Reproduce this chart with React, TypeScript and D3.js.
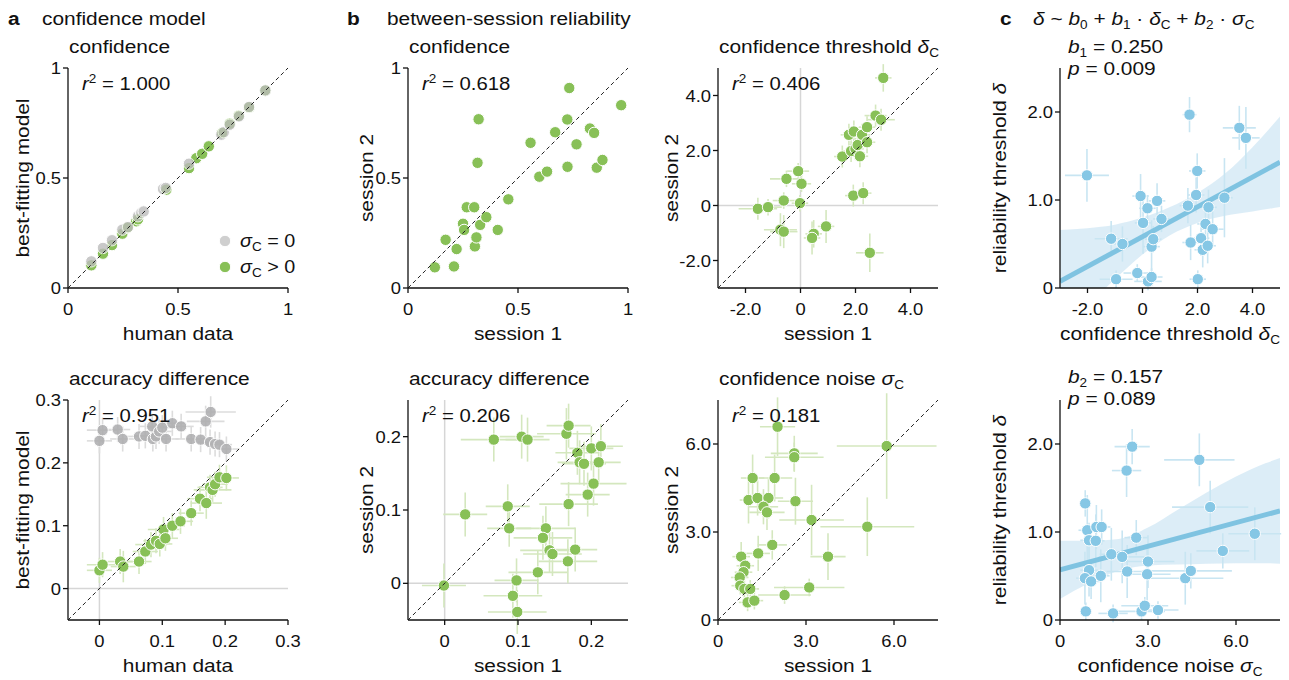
import React from 'react';
import * as d3 from 'd3';

const FONT = '"Liberation Sans", Arial, Helvetica, sans-serif';
const GREEN = '#88c057';
const GREEN_ERR = '#d4e7be';
const GRAY = '#bcbcbc';
const GRAY_ERR = '#dcdcdc';
const BLUE = '#86c7e5';
const BLUE_ERR = '#c8e5f2';
const BLUE_LINE = '#7fc3e1';
const BLUE_BAND = '#d6eaf6';
const REF = '#d6d6d6';
const INK = '#111';

type Pt = number[]; // [x, y, xErr, yErr]

// ---------- a: confidence model ----------
const aTopGreen: Pt[] = [
  [0.106, 0.103], [0.159, 0.156], [0.2, 0.195], [0.247, 0.247], [0.27, 0.274], [0.31, 0.303],
  [0.318, 0.312], [0.447, 0.447], [0.55, 0.545], [0.583, 0.59], [0.61, 0.61], [0.64, 0.644],
  [0.70, 0.705], [0.735, 0.747], [0.776, 0.783], [0.823, 0.821], [0.897, 0.898],
];
const aTopGray: Pt[] = [
  [0.106, 0.121], [0.159, 0.182], [0.2, 0.217], [0.247, 0.265], [0.273, 0.277], [0.318, 0.326],
  [0.333, 0.341], [0.344, 0.348], [0.432, 0.45], [0.444, 0.455], [0.55, 0.565], [0.697, 0.697],
  [0.708, 0.708], [0.735, 0.742], [0.777, 0.78], [0.823, 0.823], [0.897, 0.898],
];
const aBotGreen: Pt[] = [
  [0, 0.029, 0.02, 0.02], [0.005, 0.038, 0.025, 0.02], [0.033, 0.043, 0.02, 0.02], [0.038, 0.035, 0.02, 0.025],
  [0.063, 0.043, 0.02, 0.02], [0.073, 0.059, 0.02, 0.02], [0.082, 0.07, 0.025, 0.02], [0.09, 0.076, 0.02, 0.02],
  [0.096, 0.071, 0.02, 0.02], [0.102, 0.094, 0.025, 0.02], [0.105, 0.08, 0.02, 0.02], [0.116, 0.1, 0.02, 0.02],
  [0.129, 0.107, 0.02, 0.02], [0.146, 0.12, 0.02, 0.02], [0.16, 0.143, 0.02, 0.02], [0.17, 0.136, 0.025, 0.025],
  [0.176, 0.161, 0.02, 0.02], [0.18, 0.157, 0.03, 0.02], [0.184, 0.166, 0.02, 0.02], [0.191, 0.177, 0.02, 0.02],
  [0.202, 0.176, 0.02, 0.02],
];
const aBotGray: Pt[] = [
  [0, 0.235, 0.02, 0.02], [0.005, 0.252, 0.025, 0.02], [0.029, 0.253, 0.02, 0.02], [0.037, 0.238, 0.02, 0.02],
  [0.063, 0.242, 0.02, 0.02], [0.073, 0.243, 0.02, 0.02], [0.084, 0.258, 0.02, 0.02], [0.085, 0.238, 0.02, 0.02],
  [0.09, 0.242, 0.02, 0.02], [0.095, 0.25, 0.02, 0.02], [0.1, 0.256, 0.025, 0.02], [0.106, 0.238, 0.02, 0.02],
  [0.116, 0.263, 0.02, 0.02], [0.13, 0.258, 0.02, 0.02], [0.146, 0.238, 0.025, 0.02], [0.161, 0.237, 0.02, 0.02],
  [0.169, 0.266, 0.03, 0.025], [0.177, 0.281, 0.04, 0.025], [0.176, 0.233, 0.02, 0.02], [0.184, 0.23, 0.02, 0.02],
  [0.191, 0.229, 0.02, 0.02], [0.202, 0.222, 0.02, 0.02],
];

// ---------- b: between-session reliability ----------
const bConf: Pt[] = [
  [0.122, 0.094], [0.171, 0.219], [0.209, 0.098], [0.221, 0.177], [0.25, 0.292], [0.255, 0.264],
  [0.267, 0.367], [0.301, 0.367], [0.304, 0.189], [0.311, 0.23], [0.316, 0.569], [0.321, 0.767],
  [0.328, 0.287], [0.356, 0.322], [0.408, 0.264], [0.456, 0.403], [0.557, 0.66], [0.597, 0.506],
  [0.632, 0.529], [0.669, 0.708], [0.724, 0.766], [0.725, 0.551], [0.733, 0.909], [0.766, 0.653],
  [0.827, 0.725], [0.846, 0.705], [0.858, 0.547], [0.884, 0.582], [0.969, 0.831],
];
const bAcc: Pt[] = [
  [-0.001, -0.003, 0.03, 0.03], [0.028, 0.094, 0.03, 0.03], [0.067, 0.196, 0.045, 0.03], [0.105, 0.2, 0.03, 0.03],
  [0.113, 0.196, 0.03, 0.03], [0.086, 0.105, 0.03, 0.03], [0.088, 0.075, 0.03, 0.025], [0.098, 0.004, 0.03, 0.03],
  [0.093, -0.017, 0.04, 0.03], [0.099, -0.039, 0.04, 0.03], [0.127, 0.015, 0.04, 0.03], [0.138, 0.075, 0.04, 0.03],
  [0.134, 0.062, 0.04, 0.03], [0.143, 0.045, 0.04, 0.03], [0.147, 0.04, 0.04, 0.03], [0.168, 0.03, 0.04, 0.03],
  [0.178, 0.046, 0.03, 0.03], [0.169, 0.108, 0.04, 0.03], [0.166, 0.204, 0.04, 0.035], [0.169, 0.215, 0.03, 0.03],
  [0.181, 0.178, 0.03, 0.03], [0.184, 0.165, 0.03, 0.03], [0.19, 0.163, 0.03, 0.03], [0.2, 0.184, 0.03, 0.03],
  [0.213, 0.187, 0.03, 0.03], [0.21, 0.165, 0.03, 0.03], [0.203, 0.136, 0.045, 0.03], [0.195, 0.121, 0.03, 0.03],
];
const bThresh: Pt[] = [
  [3.01, 4.64, 0.3, 0.5], [-1.55, -0.12, 0.7, 0.4], [-1.18, -0.06, 0.5, 0.3], [-0.61, 0.18, 0.4, 0.3],
  [-0.51, 0.97, 0.6, 0.3], [-0.085, 1.25, 0.4, 0.3], [0.036, 0.79, 0.35, 0.3], [-0.02, 0.085, 0.3, 0.3],
  [-0.73, -0.88, 0.6, 0.6], [-0.61, -0.95, 0.5, 0.6], [0.48, -1.03, 0.3, 0.5], [0.42, -1.18, 0.3, 0.6],
  [0.93, -0.76, 0.3, 0.6], [1.52, 1.78, 0.3, 0.4], [1.76, 2.57, 0.3, 0.4], [1.94, 2.69, 0.3, 0.4],
  [1.84, 1.98, 0.3, 0.4], [2.0, 2.06, 0.3, 0.4], [2.08, 2.2, 0.3, 0.4], [2.16, 1.79, 0.3, 0.4],
  [2.24, 2.57, 0.3, 0.4], [2.42, 2.85, 0.3, 0.4], [2.42, 2.3, 0.3, 0.4], [2.73, 3.27, 0.4, 0.4],
  [2.93, 3.12, 0.5, 0.4], [1.92, 0.36, 0.3, 0.4], [2.28, 0.45, 0.3, 0.4], [2.52, -1.72, 0.5, 0.7],
];
const bNoise: Pt[] = [
  [5.75, 5.93, 1.7, 1.8], [2.03, 6.59, 0.6, 1.0], [2.6, 5.68, 0.8, 0.6], [2.6, 5.55, 1.0, 0.5],
  [1.18, 4.84, 0.4, 0.8], [1.93, 4.84, 0.6, 0.8], [1.04, 4.09, 0.3, 0.8], [1.35, 4.16, 0.5, 0.6],
  [1.72, 4.16, 0.5, 0.7], [1.55, 3.86, 0.5, 0.6], [1.67, 3.67, 0.6, 0.6], [2.64, 4.05, 0.6, 0.8],
  [3.19, 3.41, 1.1, 1.2], [5.09, 3.18, 1.6, 1.0], [3.75, 2.16, 0.6, 0.8], [1.85, 2.56, 0.5, 0.5],
  [1.37, 2.27, 0.4, 0.6], [0.79, 2.16, 0.3, 0.5], [0.93, 1.85, 0.3, 0.4], [0.87, 1.63, 0.3, 0.4],
  [0.74, 1.45, 0.3, 0.4], [0.76, 1.17, 0.3, 0.3], [0.9, 1.06, 0.3, 0.3], [1.1, 1.06, 0.3, 0.3],
  [1.01, 0.6, 0.3, 0.3], [1.24, 0.66, 0.3, 0.3], [2.27, 0.85, 0.9, 0.3], [3.11, 1.11, 1.2, 0.3],
];

// ---------- c: regression ----------
const cThresh: Pt[] = [
  [-2.02, 1.28, 0.8, 0.3], [-1.14, 0.56, 0.6, 0.2], [-0.73, 0.5, 0.3, 0.2], [-0.96, 0.1, 0.6, 0.1],
  [-0.19, 0.17, 0.5, 0.1], [0.2, 0.075, 0.5, 0.1], [0.33, 0.125, 0.4, 0.1], [-0.07, 1.045, 0.3, 0.25],
  [0.02, 0.74, 0.3, 0.35], [0.18, 0.906, 0.3, 0.15], [0.33, 0.47, 0.3, 0.3], [0.39, 0.555, 0.3, 0.15],
  [0.53, 0.99, 0.3, 0.2], [0.69, 0.785, 0.3, 0.15], [1.71, 1.97, 0.25, 0.2], [1.65, 0.936, 0.3, 0.2],
  [1.75, 0.517, 0.3, 0.2], [1.99, 1.33, 0.3, 0.2], [1.95, 1.057, 0.3, 0.2], [2.01, 0.1, 0.3, 0.1],
  [2.13, 0.566, 0.3, 0.2], [2.19, 0.434, 0.3, 0.2], [2.37, 0.48, 0.3, 0.2], [2.29, 0.728, 0.3, 0.2],
  [2.4, 0.917, 0.3, 0.2], [2.55, 0.668, 0.4, 0.2], [2.98, 1.026, 0.3, 0.45], [3.52, 1.82, 0.6, 0.25],
  [3.76, 1.706, 0.5, 0.35],
];
const cNoise: Pt[] = [
  [0.86, 1.325, 0.2, 0.15], [0.93, 1.02, 0.3, 0.4], [0.99, 0.906, 0.3, 0.2], [1.22, 0.9, 0.3, 0.3],
  [1.24, 1.057, 0.3, 0.25], [1.42, 1.057, 0.3, 0.2], [0.99, 0.566, 0.3, 0.3], [0.85, 0.475, 0.3, 0.3],
  [1.06, 0.438, 0.3, 0.2], [1.39, 0.502, 0.3, 0.3], [0.88, 0.098, 0.2, 0.1], [1.75, 0.747, 0.4, 0.3],
  [1.81, 0.075, 0.5, 0.1], [2.12, 0.717, 0.8, 0.3], [2.29, 0.551, 0.7, 0.3], [2.27, 1.698, 0.5, 0.3],
  [2.46, 1.97, 0.6, 0.2], [2.6, 0.936, 0.4, 0.2], [2.78, 0.098, 0.8, 0.1], [2.89, 0.162, 0.8, 0.1],
  [2.97, 0.52, 0.8, 0.3], [3.0, 0.664, 0.9, 0.3], [3.34, 0.113, 0.7, 0.1], [4.27, 0.475, 1.3, 0.3],
  [4.46, 0.558, 1.4, 0.2], [4.75, 1.82, 1.2, 0.3], [5.12, 1.283, 1.3, 0.3], [5.55, 0.785, 0.9, 0.2],
  [6.64, 0.98, 0.9, 0.3],
];
const cThreshFitX = [-3, 5];
const cThreshFitY = [0.075, 1.43];
const cThreshBandX = [-3, -2, -1, 0, 1, 2, 3, 4, 5];
const cThreshBandLo = [-0.5, -0.2, 0.1, 0.38, 0.6, 0.74, 0.82, 0.87, 0.92];
const cThreshBandHi = [0.66, 0.68, 0.72, 0.8, 0.92, 1.08, 1.3, 1.6, 1.95];
const cNoiseFitX = [0, 7.5];
const cNoiseFitY = [0.57, 1.24];
const cNoiseBandX = [0, 1, 2, 3, 4, 5, 6, 7, 7.5];
const cNoiseBandLo = [0.24, 0.42, 0.56, 0.62, 0.63, 0.64, 0.645, 0.645, 0.64];
const cNoiseBandHi = [0.9, 0.9, 0.92, 1.05, 1.25, 1.45, 1.63, 1.78, 1.84];

// ---------- ticks ----------
const ticks01 = [0, 0.5, 1];
const ticks01Labels = ['0', '0.5', '1'];
const ticksAcc = [0, 0.1, 0.2, 0.3];
const ticksAccLabels = ['0', '0.1', '0.2', '0.3'];
const ticksAccB = [0, 0.1, 0.2];
const ticksAccBLabels = ['0', '0.1', '0.2'];
const ticksThr = [-2, 0, 2, 4];
const ticksThrLabels = ['-2.0', '0', '2.0', '4.0'];
const ticksNoise = [0, 3, 6];
const ticksNoiseLabels = ['0', '3.0', '6.0'];
const ticksRel = [0, 1, 2];
const ticksRelLabels = ['0', '1.0', '2.0'];

const SIZE = 220;
const SX = 1.13; // horizontal glyph stretch of the reference typeface
const FS = 18.5; // label font size
const TFS = 16.3; // tick font size
const SUBFS = 12;

function T({ x, y, size = FS, anchor = 'start', rot = false, weight, children }: any) {
  const tr = rot
    ? `translate(${x},${y}) rotate(-90) scale(${SX},1)`
    : `translate(${x},${y}) scale(${SX},1)`;
  return (
    <text transform={tr} fontSize={size} textAnchor={anchor} fontWeight={weight} fill={INK}>
      {children}
    </text>
  );
}

const symSub = (base: string, s: string, after = '') => {
  const parts = [
    <tspan key="b" fontStyle="italic">{base}</tspan>,
    <tspan key="s" fontSize={SUBFS} dy={4}>{s}</tspan>,
  ];
  if (after) parts.push(<tspan key="a" dy={-4}>{after}</tspan>);
  return parts;
};

type Series = { pts: Pt[]; fill: string; err: string; opacity?: number };

function Panel(p: any) {
  const { left, top, xDomain, yDomain, xTicks, xTickLabels, yTicks, yTickLabels, refLines, diag,
    series, title, r2, xLabel, yLabel, yOff, band, fit, id } = p;
  const x = d3.scaleLinear().domain(xDomain).range([left, left + SIZE]);
  const y = d3.scaleLinear().domain(yDomain).range([top + SIZE, top]);
  const area = band
    ? d3.area<number>().x((_, i) => x(band.x[i])).y0((_, i) => y(band.lo[i])).y1((_, i) => y(band.hi[i])).curve(d3.curveMonotoneX)(band.x)
    : null;
  const fitLine = fit ? d3.line<number>().x((_, i) => x(fit.x[i])).y((_, i) => y(fit.y[i]))(fit.x) : null;
  const lo = Math.max(xDomain[0], yDomain[0]);
  const hi = Math.min(xDomain[1], yDomain[1]);
  return (
    <g>
      <defs>
        <clipPath id={id}>
          <rect x={left} y={top} width={SIZE} height={SIZE} />
        </clipPath>
      </defs>
      {area && <path d={area!} fill={BLUE_BAND} opacity={0.85} clipPath={`url(#${id})`} />}
      {refLines && (
        <g stroke={REF} strokeWidth={1.5}>
          <line x1={x(0)} x2={x(0)} y1={top} y2={top + SIZE} />
          <line x1={left} x2={left + SIZE} y1={y(0)} y2={y(0)} />
        </g>
      )}
      {series.map((s: Series, si: number) => (
        <g key={'e' + si} stroke={s.err} strokeWidth={1.6}>
          {s.pts.filter((d) => d.length > 2).map((d, i) => (
            <g key={i}>
              <line x1={x(d[0] - d[2])} x2={x(d[0] + d[2])} y1={y(d[1])} y2={y(d[1])} />
              <line x1={x(d[0])} x2={x(d[0])} y1={y(d[1] - d[3])} y2={y(d[1] + d[3])} />
            </g>
          ))}
        </g>
      ))}
      {fitLine && <path d={fitLine!} stroke={BLUE_LINE} strokeWidth={5} fill="none" clipPath={`url(#${id})`} />}
      {series.map((s: Series, si: number) => (
        <g key={'d' + si} fill={s.fill} opacity={s.opacity ?? 1} stroke="#fff" strokeWidth={1}>
          {s.pts.map((d, i) => (
            <circle key={i} cx={x(d[0])} cy={y(d[1])} r={5.7} />
          ))}
        </g>
      ))}
      {diag && (
        <line x1={x(lo)} y1={y(lo)} x2={x(hi)} y2={y(hi)} stroke="#222" strokeWidth={1} strokeDasharray="4,3" />
      )}
      <g stroke={INK} strokeWidth={1.3}>
        <line x1={left} x2={left + SIZE} y1={top + SIZE} y2={top + SIZE} />
        <line x1={left} x2={left} y1={top} y2={top + SIZE} />
        {xTicks.map((t: number) => (
          <line key={'xt' + t} x1={x(t)} x2={x(t)} y1={top + SIZE} y2={top + SIZE + 5} />
        ))}
        {yTicks.map((t: number) => (
          <line key={'yt' + t} x1={left - 5} x2={left} y1={y(t)} y2={y(t)} />
        ))}
      </g>
      {xTicks.map((t: number, i: number) => (
        <T key={'xl' + t} x={x(t)} y={top + SIZE + 27} size={TFS} anchor="middle">{xTickLabels[i]}</T>
      ))}
      {yTicks.map((t: number, i: number) => (
        <T key={'yl' + t} x={left - 7} y={y(t) + 6} size={TFS} anchor="end">{yTickLabels[i]}</T>
      ))}
      {title && <T x={left + 1} y={top - 15}>{title}</T>}
      {r2 && (
        <T x={left + 14} y={top + 22} size={18}>
          <tspan fontStyle="italic">r</tspan>
          <tspan fontSize={SUBFS} dy={-7}>2</tspan>
          <tspan dy={7}>{r2}</tspan>
        </T>
      )}
      <T x={left + SIZE / 2} y={top + SIZE + 52} anchor="middle">{xLabel}</T>
      <T x={left - yOff} y={top + SIZE / 2} anchor="middle" rot>{yLabel}</T>
    </g>
  );
}

export default function App() {
  const panels = [
    {
      id: 'pA1', left: 68, top: 68, xDomain: [0, 1], yDomain: [0, 1], xTicks: ticks01, xTickLabels: ticks01Labels,
      yTicks: ticks01, yTickLabels: ticks01Labels, diag: true, refLines: false,
      series: [{ pts: aTopGreen, fill: GREEN, err: GREEN_ERR }, { pts: aTopGray, fill: GRAY, err: GRAY_ERR, opacity: 0.8 }],
      title: 'confidence', r2: ' = 1.000', xLabel: 'human data', yLabel: 'best-fitting model', yOff: 39,
    },
    {
      id: 'pA2', left: 68, top: 400, xDomain: [-0.05, 0.3], yDomain: [-0.05, 0.3], xTicks: ticksAcc, xTickLabels: ticksAccLabels,
      yTicks: ticksAcc, yTickLabels: ticksAccLabels, diag: true, refLines: true,
      series: [{ pts: aBotGray, fill: '#acacae', err: GRAY_ERR, opacity: 0.85 }, { pts: aBotGreen, fill: GREEN, err: GREEN_ERR }],
      title: 'accuracy difference', r2: ' =  0.951', xLabel: 'human data', yLabel: 'best-fitting model', yOff: 39,
    },
    {
      id: 'pB1', left: 408, top: 68, xDomain: [0, 1], yDomain: [0, 1], xTicks: ticks01, xTickLabels: ticks01Labels,
      yTicks: ticks01, yTickLabels: ticks01Labels, diag: true, refLines: false,
      series: [{ pts: bConf, fill: GREEN, err: GREEN_ERR }],
      title: 'confidence', r2: ' =  0.618', xLabel: 'session 1', yLabel: 'session 2', yOff: 35,
    },
    {
      id: 'pB2', left: 408, top: 400, xDomain: [-0.05, 0.25], yDomain: [-0.05, 0.25], xTicks: ticksAccB, xTickLabels: ticksAccBLabels,
      yTicks: ticksAccB, yTickLabels: ticksAccBLabels, diag: true, refLines: true,
      series: [{ pts: bAcc, fill: GREEN, err: GREEN_ERR }],
      title: 'accuracy difference', r2: ' = 0.206', xLabel: 'session 1', yLabel: 'session 2', yOff: 35,
    },
    {
      id: 'pB3', left: 718, top: 68, xDomain: [-3, 5], yDomain: [-3, 5], xTicks: ticksThr, xTickLabels: ticksThrLabels,
      yTicks: ticksThr, yTickLabels: ticksThrLabels, diag: true, refLines: true,
      series: [{ pts: bThresh, fill: GREEN, err: GREEN_ERR }],
      title: <>confidence threshold {symSub('δ', 'C')}</>, r2: ' =  0.406', xLabel: 'session 1', yLabel: 'session 2', yOff: 40,
    },
    {
      id: 'pB4', left: 718, top: 400, xDomain: [0, 7.5], yDomain: [0, 7.5], xTicks: ticksNoise, xTickLabels: ticksNoiseLabels,
      yTicks: ticksNoise, yTickLabels: ticksNoiseLabels, diag: true, refLines: false,
      series: [{ pts: bNoise, fill: GREEN, err: GREEN_ERR }],
      title: <>confidence noise {symSub('σ', 'C')}</>, r2: ' =  0.181', xLabel: 'session 1', yLabel: 'session 2', yOff: 40,
    },
    {
      id: 'pC1', left: 1060, top: 68, xDomain: [-3, 5], yDomain: [0, 2.5], xTicks: ticksThr, xTickLabels: ticksThrLabels,
      yTicks: ticksRel, yTickLabels: ticksRelLabels, diag: false, refLines: false,
      series: [{ pts: cThresh, fill: BLUE, err: BLUE_ERR }],
      band: { x: cThreshBandX, lo: cThreshBandLo, hi: cThreshBandHi }, fit: { x: cThreshFitX, y: cThreshFitY },
      title: '', r2: null, xLabel: <>confidence threshold {symSub('δ', 'C')}</>,
      yLabel: <>reliability threshold <tspan fontStyle="italic">δ</tspan></>, yOff: 54,
    },
    {
      id: 'pC2', left: 1060, top: 400, xDomain: [0, 7.5], yDomain: [0, 2.5], xTicks: ticksNoise, xTickLabels: ticksNoiseLabels,
      yTicks: ticksRel, yTickLabels: ticksRelLabels, diag: false, refLines: false,
      series: [{ pts: cNoise, fill: BLUE, err: BLUE_ERR }],
      band: { x: cNoiseBandX, lo: cNoiseBandLo, hi: cNoiseBandHi }, fit: { x: cNoiseFitX, y: cNoiseFitY },
      title: '', r2: null, xLabel: <>confidence noise {symSub('σ', 'C')}</>,
      yLabel: <>reliability threshold <tspan fontStyle="italic">δ</tspan></>, yOff: 54,
    },
  ];

  const bsub = (n: string, after: string) => [
    <tspan key={'b' + n} fontStyle="italic">b</tspan>,
    <tspan key={'s' + n} fontSize={SUBFS} dy={4}>{n}</tspan>,
    <tspan key={'a' + n} dy={-4}>{after}</tspan>,
  ];

  return (
    <svg width={1289} height={680} style={{ position: 'absolute', left: 0, top: 0 }} fontFamily={FONT}>
      <rect width={1289} height={680} fill="#fff" />
      <T x={8} y={25} weight="bold">a</T>
      <T x={42} y={25}>confidence model</T>
      <T x={347} y={25} weight="bold">b</T>
      <T x={387} y={25}>between-session reliability</T>
      <T x={1000} y={25} weight="bold">c</T>
      <T x={1033} y={25}>
        <tspan fontStyle="italic">δ</tspan>{' ~ '}
        {bsub('0', ' + ')}
        {bsub('1', ' · ')}
        <tspan fontStyle="italic">δ</tspan><tspan fontSize={SUBFS} dy={4}>C</tspan><tspan dy={-4}>{' + '}</tspan>
        {bsub('2', ' · ')}
        <tspan fontStyle="italic">σ</tspan><tspan fontSize={SUBFS} dy={4}>C</tspan>
      </T>

      {panels.map((p) => <Panel key={p.id} {...p} />)}

      {/* legend in a */}
      <circle cx={225} cy={241} r={5.7} fill="#cfcfcf" stroke="#fff" />
      <circle cx={225} cy={267} r={5.7} fill={GREEN} stroke="#fff" />
      <T x={240} y={247} size={17.5}>{symSub('σ', 'C', ' = 0')}</T>
      <T x={240} y={273} size={17.5}>{symSub('σ', 'C', ' > 0')}</T>

      {/* regression stats in c */}
      <T x={1068} y={53}>{bsub('1', ' = 0.250')}</T>
      <T x={1068} y={75}><tspan fontStyle="italic">p</tspan> = 0.009</T>
      <T x={1068} y={383}>{bsub('2', ' = 0.157')}</T>
      <T x={1068} y={405}><tspan fontStyle="italic">p</tspan> = 0.089</T>
    </svg>
  );
}
